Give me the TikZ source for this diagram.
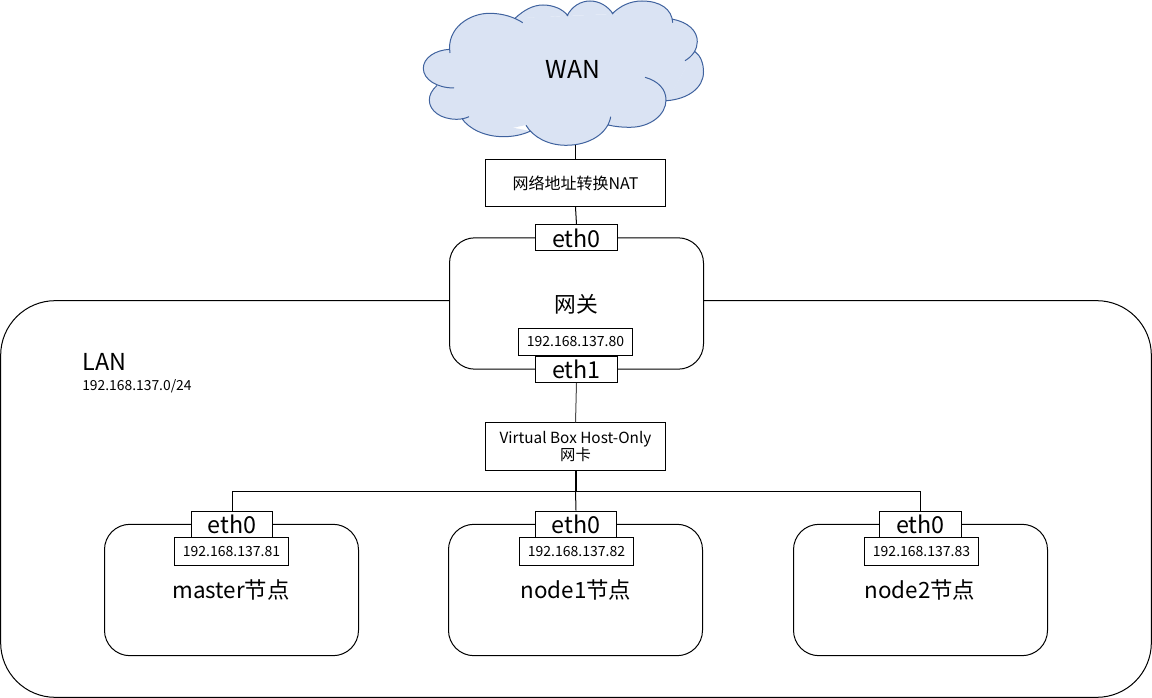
\documentclass[tikz,border=0pt]{standalone}
\usepackage{fontspec}
\setmainfont{Noto Sans CJK SC}
\definecolor{cloudfill}{HTML}{DAE3F3}
\definecolor{cloudline}{HTML}{3F629E}
\begin{document}
\begin{tikzpicture}[
  x=0.75pt, y=-0.75pt,
  hostbox/.style={shape=rectangle, draw=black, line width=0.75pt, fill=white, rounded corners=19pt, minimum width=190.5pt, minimum height=98.5pt, inner sep=0pt},
  ethbox/.style={shape=rectangle, draw=black, line width=0.75pt, fill=white, minimum width=61pt, minimum height=19.5pt, inner sep=0pt, font=\fontsize{17.5}{18}\selectfont},
  ipbox/.style={shape=rectangle, draw=black, line width=0.75pt, fill=white, minimum width=86pt, minimum height=20.5pt, inner sep=0pt, font=\fontsize{10.5}{12}\selectfont},
  netbox/.style={shape=rectangle, draw=black, line width=0.75pt, fill=white, minimum width=135pt, minimum height=35.5pt, inner sep=0pt, align=center, font=\fontsize{11.5}{12.75}\selectfont},
  biglabel/.style={font=\fontsize{16.8}{18}\selectfont, inner sep=0pt},
]
\useasboundingbox (0,0) rectangle (1152,698);

%LAN
\node[hostbox, rounded corners=41pt, minimum width=863pt, minimum height=297.5pt] (lan) at (576,499) {};
\node[biglabel, anchor=west, font=\fontsize{17.5}{18}\selectfont] (lantext) at (82,362) {LAN};
\node[font=\fontsize{10.4}{12}\selectfont, inner sep=0pt, anchor=west] (lanip) at (82,386) {192.168.137.0/24};

%CLOUD
\fill[cloudfill] (450,49) -- (515,18) -- (567,16) -- (612,14) -- (672,19) -- (695,52) -- (667,101) -- (608,125) -- (526,125) -- (503,130) -- (462,118) -- (437,86) -- cycle;
\filldraw[fill=cloudfill, draw=cloudline, line width=0.75pt]
  (450,53) .. controls (446,28) and (470,13) .. (490,13.3) .. controls (503,13.5) and (514,17) .. (522.7,22.7)
  (515,18.3) .. controls (524,10) and (533,5) .. (543,5) .. controls (553,5) and (563,9) .. (568,16)
  (567,16) .. controls (572,6) and (581,1) .. (590,1) .. controls (599,1) and (608,6) .. (613,14)
  (612,14) .. controls (620,6) and (630,1) .. (642,1) .. controls (660,1) and (672,9) .. (672.7,22.7)
  (672.7,19.3) .. controls (688,22) and (697.5,31) .. (697.3,41.7) .. controls (697.2,49) and (693,56) .. (685,60.7)
  (695,51.7) .. controls (701,56) and (703.5,64) .. (703.5,72) .. controls (703.5,88) and (688,99) .. (666.7,100.7)
  (645,77.3) .. controls (658,81) and (666,89) .. (666,100) .. controls (666,115) and (650,127.3) .. (630,127.3) .. controls (622,127.3) and (614,126.5) .. (608.3,125)
  (610.7,116.7) .. controls (608,133) and (590,145.3) .. (566,145.3) .. controls (548,145.3) and (533,137) .. (526,125.3)
  (530.7,131) .. controls (522,135) and (513,136.7) .. (503.3,136.7) .. controls (485,136.7) and (469,129) .. (461.7,118.3)
  (469,116.7) .. controls (465,118.5) and (461,119.3) .. (456.7,119.3) .. controls (441,119.3) and (429.3,111) .. (429.3,100) .. controls (429.3,95) and (432,90) .. (436.7,85.7)
  (454,88) .. controls (437,88) and (423.3,79.5) .. (423.3,68.3) .. controls (423.3,58) and (435,50) .. (450,49.3);
\node[biglabel, font=\fontsize{18.5}{18}\selectfont] (wan) at (573,69) {WAN};
\coordinate (cloudbottom) at (575.5,145.3);

%GATEWAY
\node[netbox, font=\fontsize{12}{13}\selectfont] (nat) at (575.5,183) {网络地址转换NAT};
\node[hostbox] (gateway) at (576.5,303.5) {};
\node[biglabel, font=\fontsize{16.3}{18}\selectfont] (gatewaytext) at (576,304) {网关};
\node[ethbox] (gwetha) at (576.5,238) {eth0};
\node[ipbox] (gwip) at (575.5,342) {192.168.137.80};
\node[ethbox] (gwethb) at (576.5,369.5) {eth1};
\node[netbox] (vbox) at (575.5,446.5) {Virtual Box Host-Only\\网卡};

%HOSTS
\node[hostbox] (master) at (231.5,590) {};
\node[hostbox] (nodea) at (575.5,590) {};
\node[hostbox] (nodeb) at (920.5,590) {};
\node[biglabel] (mastertext) at (231,590) {master节点};
\node[biglabel] (nodeatext) at (576,590) {node1节点};
\node[biglabel] (nodebtext) at (920,590) {node2节点};
\node[ethbox] (masteth) at (232,524) {eth0};
\node[ethbox] (nodeaeth) at (576,524) {eth0};
\node[ethbox] (nodebeth) at (920.5,524) {eth0};
\node[ipbox] (masterip) at (231.5,551.5) {192.168.137.81};
\node[ipbox] (nodeaip) at (576.5,551.5) {192.168.137.82};
\node[ipbox] (nodebip) at (921.5,551.5) {192.168.137.83};

%LINKS
\coordinate (bus) at (575.5,491);
\draw[line width=0.75pt] (cloudbottom) -- (nat.north);
\draw[line width=0.75pt] (nat.south) -- (gwetha.north);
\draw[line width=0.75pt, black!70] (gwethb.south) -- (vbox.north);
\draw[line width=1.5pt] (vbox.south) -- (bus);
\draw[line width=0.75pt] (bus) -| (masteth.north);
\draw[line width=0.75pt] (bus) -| (nodebeth.north);
\draw[line width=0.75pt] (bus) -- (nodeaeth.north);
\end{tikzpicture}
\end{document}
